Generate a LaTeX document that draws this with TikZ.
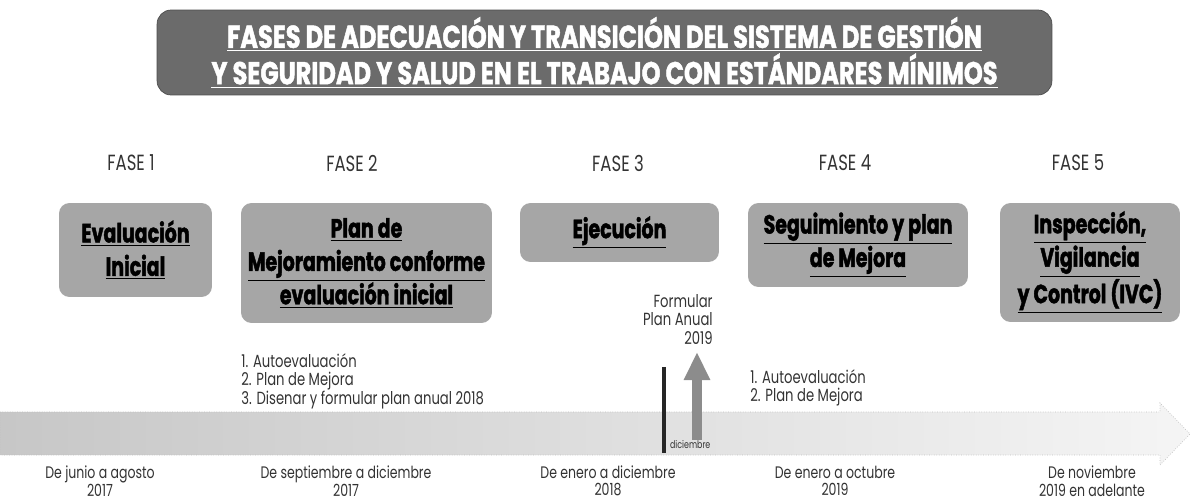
\documentclass[tikz,border=0pt]{standalone}
\usepackage{fontspec}
\setmainfont{Poppins}[FakeStretch=0.75]
\newfontfamily\headfont{Poppins}[FakeStretch=0.72, BoldFeatures={FakeBold=1.6}]
\newfontfamily\titlefont{Poppins}[FakeStretch=0.76, BoldFeatures={FakeBold=1.4}]
\usetikzlibrary{arrows.meta,positioning}

\tikzset{
  titlebox/.style={fill=black!58, draw=black!70, rounded corners=8pt, align=center,
    text=white, inner sep=0pt, font=\titlefont\bfseries\fontsize{18}{17.5}\selectfont},
  phasebox/.style={fill=black!35, rounded corners=6pt, align=center, inner sep=0pt,
    font=\headfont\bfseries\fontsize{15}{19}\selectfont},
  phaselabel/.style={font=\fontsize{12.5}{15}\selectfont, text=black!80},
  period/.style={align=center, inner sep=0pt, font=\fontsize{9.5}{10}\selectfont, text=black!80},
  tasks/.style={align=left, inner sep=0pt, font=\fontsize{10}{10.5}\selectfont, text=black!80}
}

\begin{document}
\begin{tikzpicture}[x=0.02cm, y=-0.02cm]
\useasboundingbox (0,0) rectangle (1191,503);

% title
\node[titlebox, minimum width=17.9cm, minimum height=1.7cm] (title) at (604.5,52.5)
  {\underline{FASES DE ADECUACIÓN Y TRANSICIÓN DEL SISTEMA DE GESTIÓN}\\
   \underline{Y SEGURIDAD Y SALUD EN EL TRABAJO CON ESTÁNDARES MÍNIMOS}};

% phase labels
\node[phaselabel] (fase1) at (131,163) {FASE 1};
\node[phaselabel] (fase2) at (352,163) {FASE 2};
\node[phaselabel] (fase3) at (618,163) {FASE 3};
\node[phaselabel] (fase4) at (845,163) {FASE 4};
\node[phaselabel] (fase5) at (1078,163) {FASE 5};

% phase boxes
\node[phasebox, minimum width=3.06cm, minimum height=1.88cm] (evaluacion) at (135.5,250)
  {\underline{Evaluación}\\\underline{Inicial}};
\node[phasebox, minimum width=5.02cm, minimum height=2.4cm] (mejoramiento) at (366.5,263)
  {\underline{Plan de}\\\underline{Mejoramiento conforme}\\\underline{evaluación inicial}};
\node[phasebox, minimum width=3.98cm, minimum height=1.18cm] (ejecucion) at (619.5,232.5)
  {\underline{Ejecución}};
\node[phasebox, minimum width=4.4cm, minimum height=1.68cm] (seguimiento) at (858,245)
  {\underline{Seguimiento y plan}\\\underline{de Mejora}};
\node[phasebox, minimum width=3.6cm, minimum height=2.38cm] (ivc) at (1090,262.5)
  {\underline{Inspección,}\\\underline{Vigilancia}\\\underline{y Control (IVC)}};

% timeline
\shade[left color=black!22, right color=black!4, draw=black!25, densely dotted]
  (0,412) -- (1160,412) -- (1160,403) -- (1190,434) -- (1160,465) -- (1160,455) -- (0,455) -- cycle;

% tasks
\node[tasks, anchor=north west] (tareas2) at (241,353)
  {1. Autoevaluación\\2. Plan de Mejora\\3. Disenar y formular plan anual 2018};
\node[tasks, anchor=north east, align=right] (formular) at (713,294)
  {Formular\\Plan Anual\\2019};
\node[tasks, anchor=north west] (tareas4) at (750,369)
  {1. Autoevaluación\\2. Plan de Mejora};

% december marks
\coordinate (dictop) at (664,367);
\coordinate (dicbot) at (664,453);
\draw[line width=1.8pt, black!85] (dictop) -- (dicbot);
\node[anchor=west, inner sep=1pt, font=\fontsize{6}{6}\selectfont, text=black!80] (dic) at (668,445) {diciembre};
\coordinate (arrbase) at (697,440);
\coordinate (arrtip) at (697,352);
\draw[black!45, line width=6pt, -{Triangle[width=14pt,length=16pt]}] (arrbase) -- (arrtip);

% periods
\node[period] (periodo1) at (100,481) {De junio a agosto\\2017};
\node[period] (periodo2) at (346,481) {De septiembre a diciembre\\2017};
\node[period] (periodo3) at (608,481) {De enero a diciembre\\2018};
\node[period] (periodo4) at (835,481) {De enero a octubre\\2019};
\node[period] (periodo5) at (1092,481) {De noviembre\\2019 en adelante};
\end{tikzpicture}
\end{document}
